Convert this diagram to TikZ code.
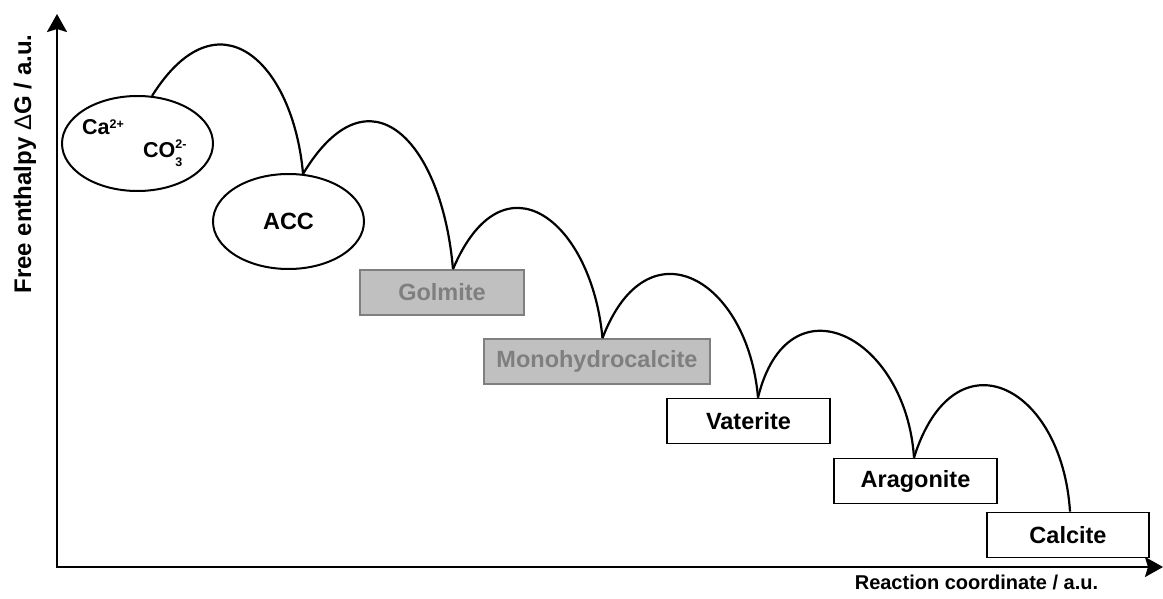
\documentclass[tikz,border=0pt]{standalone}
\usepackage{fontspec}
\setmainfont{Liberation Sans}
\usetikzlibrary{arrows.meta,shapes.geometric}
\definecolor{boxgray}{RGB}{192,192,192}
\definecolor{bordergray}{RGB}{127,127,127}
\definecolor{textgray}{RGB}{127,127,127}
\tikzset{
  ell/.style={draw, line width=2pt, ellipse, minimum width=151pt, minimum height=95pt, inner sep=0pt, font=\fontsize{23.5}{28}\selectfont\bfseries},
  phasebox/.style={draw, line width=1.8pt, rectangle, minimum height=45pt, inner sep=0pt, font=\fontsize{23.5}{28}\selectfont\bfseries},
  graybox/.style={phasebox, fill=boxgray, draw=bordergray, text=textgray},
  ionlabel/.style={anchor=base west, inner sep=0pt, font=\fontsize{21.5}{24}\selectfont\bfseries},
  arcline/.style={line width=2.2pt},
  axisline/.style={line width=2.5pt, {Stealth[length=18pt,width=20pt,inset=3pt]}-{Stealth[length=18pt,width=20pt,inset=3pt]}},
}
\newcommand{\smallscript}[1]{{\fontsize{12.5}{13}\selectfont #1}}
\begin{document}
\begin{tikzpicture}[x=1pt,y=-1pt]
\useasboundingbox (0,0) rectangle (1163,599);
% axes
\coordinate (O) at (57,567);
\coordinate (ytip) at (57,14);
\coordinate (xtip) at (1163,567);
\draw[axisline] (ytip) -- (O) -- (xtip);
\node[rotate=90, anchor=base, inner sep=0pt, font=\fontsize{24}{28}\selectfont\bfseries] (ylab) at (31,164) {Free enthalpy {\mdseries Δ}G / a.u.};
\node[anchor=base, inner sep=0pt, font=\fontsize{20}{24}\selectfont\bfseries] (xlab) at (976.5,589) {Reaction coordinate / a.u.};
% nodes
\node[ell] (e1) at (137.5,143.5) {};
\node[ionlabel] (ca) at (82,135) {Ca\raisebox{6.5pt}{\smallscript{2+}}};
\node[ionlabel] (co) at (143,158) {CO\rlap{\raisebox{9.5pt}{\smallscript{2-}}}\raisebox{-9pt}{\smallscript{3}}};
\node[ell] (e2) at (288.5,221.5) {ACC};
\node[graybox, minimum width=164pt] (g) at (442,292.5) {Golmite};
\node[graybox, minimum width=226pt] (m) at (597,361.5) {Monohydrocalcite};
\node[phasebox, minimum width=163pt] (v) at (748.5,421) {Vaterite};
\node[phasebox, minimum width=163pt] (a) at (915.5,481) {Aragonite};
\node[phasebox, minimum width=162pt] (c) at (1068,535) {Calcite};
% connection points
\coordinate (p1) at (e1.73);
\coordinate (p2) at (e2.73);
\coordinate (p3) at ([xshift=11pt]g.north);
\coordinate (p4) at ([xshift=5.5pt]m.north);
\coordinate (p5) at ([xshift=9.5pt]v.north);
\coordinate (p6) at ([xshift=-1.5pt]a.north);
\coordinate (p7) at ([xshift=2pt]c.north);
% arcs
\draw[arcline] (p1) .. controls +(66,-105) and +(-10,-112) .. (p2);
\draw[arcline] (p2) .. controls +(66,-110) and +(-11,-128) .. (p3);
\draw[arcline] (p3) .. controls +(50,-118) and +(-11,-118) .. (p4);
\draw[arcline] (p4) .. controls +(45,-118) and +(-10,-118) .. (p5);
\draw[arcline] (p5) .. controls +(30,-122) and +(-8,-122) .. (p6);
\draw[arcline] (p6) .. controls +(40,-127) and +(-8,-127) .. (p7);
\end{tikzpicture}
\end{document}
